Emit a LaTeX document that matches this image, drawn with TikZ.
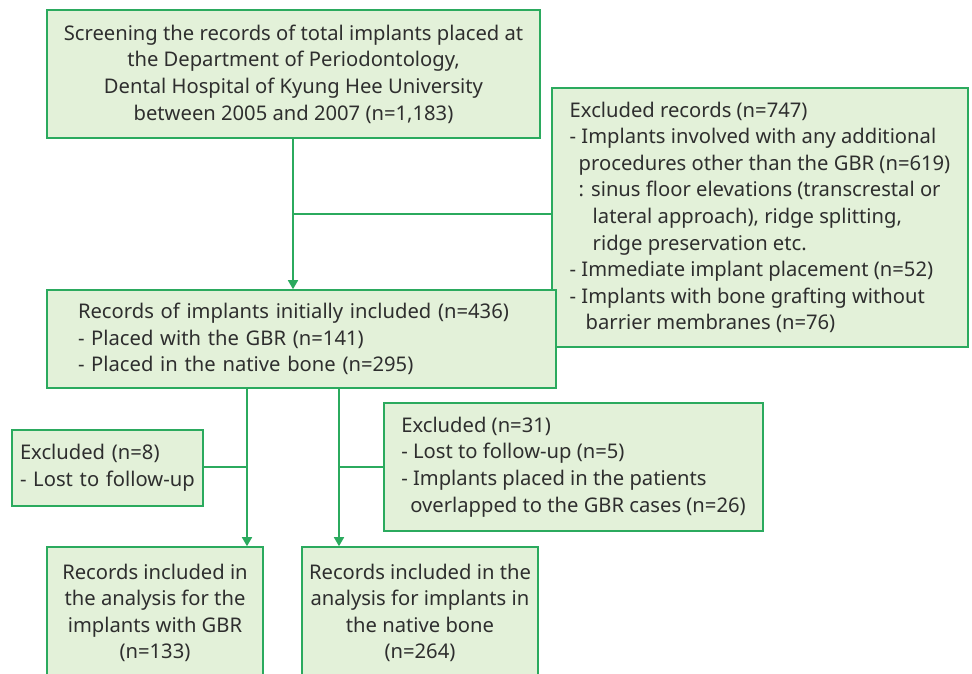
\documentclass[tikz,border=0pt]{standalone}
\usepackage{fontspec}
\setmainfont{Noto Sans}
\usetikzlibrary{arrows.meta}
\definecolor{boxfill}{HTML}{E3F1D9}
\definecolor{boxline}{HTML}{2BAA5E}
\definecolor{txt}{HTML}{2E2E2E}
\begin{document}
\begin{tikzpicture}
  [x=1pt,y=-1pt,
   every node/.style={rectangle,draw=boxline,fill=boxfill,line width=1.6pt,text=txt,
     font=\fontsize{20.2}{26.6}\selectfont,inner sep=0pt},
   flow/.style={draw=boxline,line width=1.6pt},
   arr/.style={flow,-{Triangle[width=10pt,length=9pt]}}]
  \useasboundingbox (0,0) rectangle (972,673);
  \node (screen)[minimum width=493,minimum height=128,align=center] at (293.5,74)
    {Screening the records of total implants placed at\\the Department of Periodontology,\\
     Dental Hospital of Kyung Hee University\\between 2005 and 2007 (n=1,183)};
  \node (excl1)[minimum width=416,minimum height=259,align=left] at (760,217.5)
    {Excluded records (n=747)\\- Implants involved with any additional\\
     \hspace{9pt}procedures other than the GBR (n=619)\\
     \hspace{9pt}: sinus floor elevations (transcrestal or\\
     \hspace{23pt}lateral approach), ridge splitting,\\
     \hspace{23pt}ridge preservation etc.\\
     - Immediate implant placement (n=52)\\
     - Implants with bone grafting without\\
     \hspace{16pt}barrier membranes (n=76)};
  \node (incl)[minimum width=509,minimum height=98,inner xsep=31,text width=447,align=left] at (301.5,339)
    {Records of implants initially included (n=436)\\- Placed with the GBR (n=141)\\
     - Placed in the native bone (n=295)};
  \node (excl8)[minimum width=191,minimum height=76,inner xsep=8,text width=175,align=left] at (107.5,468)
    {Excluded (n=8)\\- Lost to follow-up};
  \node (excl31)[minimum width=379,minimum height=128,align=left] at (573.5,467)
    {Excluded (n=31)\\- Lost to follow-up (n=5)\\- Implants placed in the patients\\
     \hspace{9pt}overlapped to the GBR cases (n=26)};
  \node (gbr)[minimum width=216,minimum height=132,align=center] at (155,613)
    {Records included in\\the analysis for the\\implants with GBR\\(n=133)};
  \node (native)[minimum width=236,minimum height=132,align=center] at (420,613)
    {Records included in the\\analysis for implants in\\the native bone\\(n=264)};

  \coordinate (c0) at (293,214);
  \coordinate (c1) at (247,467);
  \coordinate (c2) at (339,467);

  \draw[arr] (screen.south -| c0) -- (incl.north -| c0);
  \foreach \from/\side/\col in {excl1/west/c0,excl8/east/c1,excl31/west/c2}
    \draw[flow] (\from.\side |- \col) -- (\col);
  \draw[arr] (incl.south -| c1) -- (gbr.north -| c1);
  \draw[arr] (incl.south -| c2) -- (native.north -| c2);

\end{tikzpicture}
\end{document}
